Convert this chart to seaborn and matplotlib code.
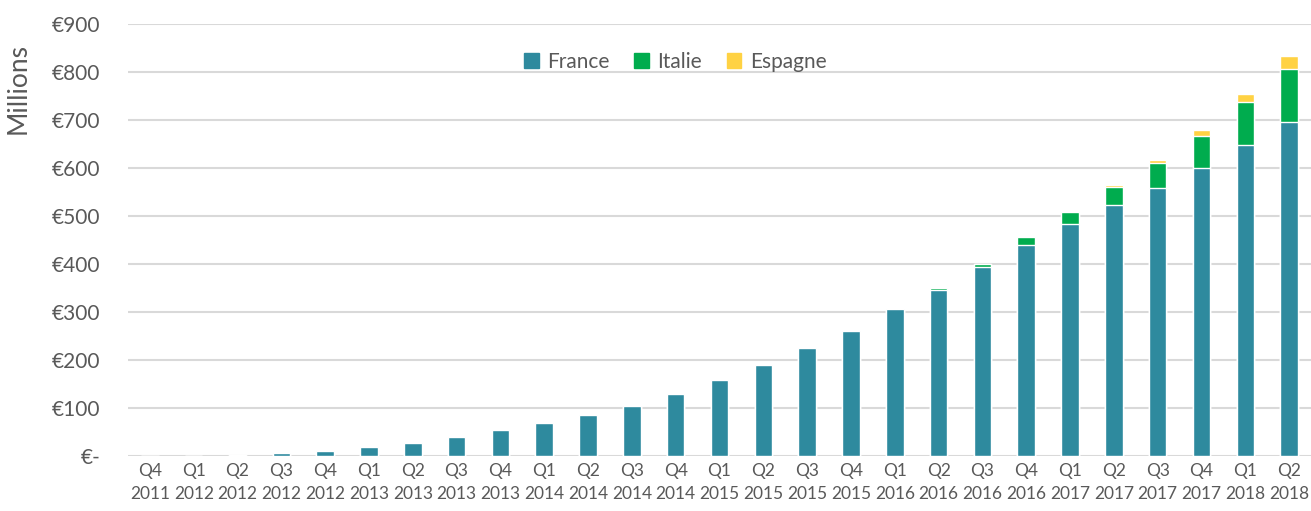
import pandas as pd
import matplotlib.pyplot as plt
import seaborn as sns
from matplotlib.patches import Patch

quarters = ['Q4\n2011', 'Q1\n2012', 'Q2\n2012', 'Q3\n2012', 'Q4\n2012', 'Q1\n2013', 'Q2\n2013',
            'Q3\n2013', 'Q4\n2013', 'Q1\n2014', 'Q2\n2014', 'Q3\n2014', 'Q4\n2014', 'Q1\n2015',
            'Q2\n2015', 'Q3\n2015', 'Q4\n2015', 'Q1\n2016', 'Q2\n2016', 'Q3\n2016', 'Q4\n2016',
            'Q1\n2017', 'Q2\n2017', 'Q3\n2017', 'Q4\n2017', 'Q1\n2018', 'Q2\n2018']
france = [0.3, 0.6, 3, 6, 10, 18, 27, 40, 54, 68, 85, 104, 129, 158,
          189, 224, 260, 306, 346, 393, 439, 483, 522, 558, 601, 648, 696]
italie = [0, 0, 0, 0, 0, 0, 0, 0, 0, 0, 0, 0, 0, 0,
          0, 0, 0, 0, 4, 7, 17, 25, 39, 53, 65, 89, 110]
espagne = [0, 0, 0, 0, 0, 0, 0, 0, 0, 0, 0, 0, 0, 0,
           0, 0, 0, 0, 0, 0, 0, 1, 4, 6, 13, 18, 27]

df = pd.DataFrame({'quarter': quarters, 'France': france, 'Italie': italie, 'Espagne': espagne})
df['fr_it'] = df['France'] + df['Italie']
df['total'] = df['fr_it'] + df['Espagne']

sns.set_style('white')
plt.rcParams['font.family'] = ['Lato', 'DejaVu Sans']
grey = '#595959'
c_fr, c_it, c_es = '#2E8A9E', '#00AC4E', '#FFD243'

fig = plt.figure(figsize=(13.11, 5.11), dpi=100)
ax = fig.add_axes([128 / 1311, 55 / 511, 1183 / 1311, 432 / 511])

# stacked bars drawn as cumulative layers
sns.barplot(data=df, x='quarter', y='total', color=c_es, width=0.4, saturation=1, ax=ax)
sns.barplot(data=df, x='quarter', y='fr_it', color=c_it, width=0.4, saturation=1, ax=ax)
sns.barplot(data=df, x='quarter', y='France', color=c_fr, width=0.4, saturation=1, ax=ax)

ax.set_ylim(0, 900)
ax.set_xlim(-0.5, len(quarters) - 0.5)
ax.set_yticks(range(0, 901, 100))
ax.set_yticklabels(['€-'] + ['€%d' % v for v in range(100, 901, 100)])
ax.yaxis.grid(True, color='#D9D9D9', linewidth=1.5)
ax.set_axisbelow(True)
for s in ax.spines.values():
    s.set_visible(False)
ax.tick_params(axis='y', length=0, labelsize=15, labelcolor=grey, pad=20)
ax.tick_params(axis='x', length=0, labelsize=12.5, labelcolor=grey, pad=5)
for t in ax.get_xticklabels():
    t.set_linespacing(1.55)
ax.set_xlabel('')
ax.set_ylabel('Millions', fontsize=19, color=grey)
ax.yaxis.set_label_coords(-0.082, 0.85)

handles = [Patch(color=c_fr, label='France'), Patch(color=c_it, label='Italie'),
           Patch(color=c_es, label='Espagne')]
fig.legend(handles=handles, loc='center', bbox_to_anchor=(0.515, 0.879), ncol=3, frameon=False,
           fontsize=15, handlelength=0.7, handleheight=0.7, handletextpad=0.4, columnspacing=1.2,
           labelcolor=grey)

fig.savefig('out.png', dpi=100)
